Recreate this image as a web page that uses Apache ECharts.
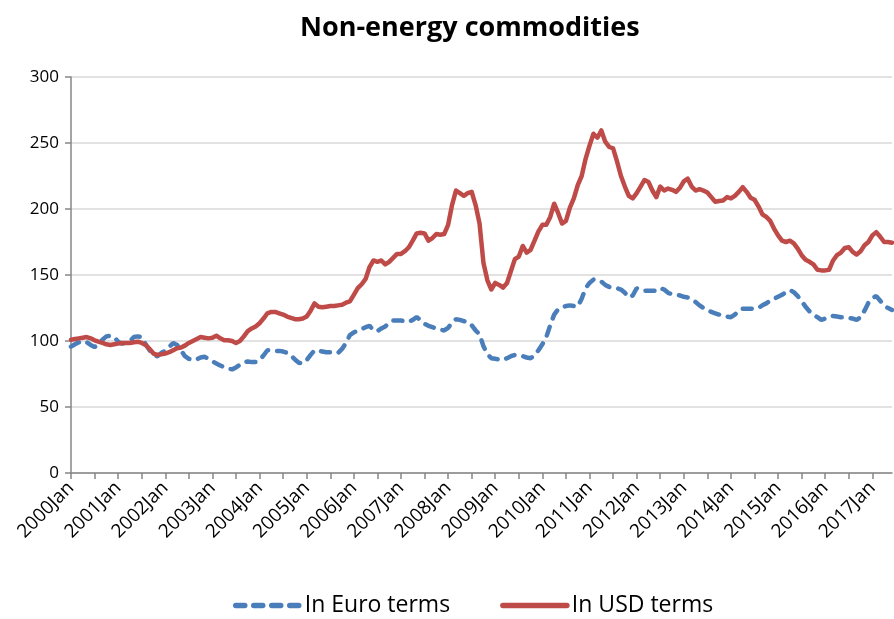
<!DOCTYPE html>
<html>
<head>
    <meta charset="utf-8">
    <title>Non-energy commodities</title>
    <script src="https://cdn.jsdelivr.net/npm/echarts@6/dist/echarts.min.js"></script>
    <style>
        body { margin: 0; background: #fff; }
        #main { width: 894px; height: 619px; }
    </style>
</head>
<body>
<div id="main"></div>
<script type="text/javascript">
    // monthly categories, 2000Jan .. 2017Jun
    var monthNames = ['Jan','Feb','Mar','Apr','May','Jun','Jul','Aug','Sep','Oct','Nov','Dec'];
    var firstYear = 2000;
    var lastYear = 2017;
    var lastMonth = 6;

    var months = [];
    for (var y = firstYear; y <= lastYear; y++) {
        for (var m = 0; m < 12; m++) {
            if (y == lastYear && m >= lastMonth) break;
            months.push(y + monthNames[m]);
        }
    }

    // In USD terms
    var usd = [
        101, 101.5, 102, 102.5, 103, 102, 100.5, 99.5, 98.5, 97.5, 97, 97.5,
        98, 98.5, 98.5, 98.5, 99, 99.5, 98.5, 97, 94, 90.5, 89.5, 90,
        90.5, 91.5, 93, 94.5, 95, 96.5, 98.5, 100, 101.5, 103, 102.5, 102,
        102.5, 104, 102, 100.5, 100.5, 100, 98.5, 100, 103.5, 107.5, 109.5, 111,
        113.5, 117, 121, 122, 122, 121, 120, 118.5, 117.5, 116.5, 116.5, 117,
        118.5, 123, 128.5, 126, 125.5, 126, 126.5, 126.5, 127, 127.5, 129, 130,
        135, 140, 143, 147, 156, 161, 160, 161, 158, 160, 163, 166,
        166, 168, 171, 176, 181.5, 182, 181.5, 176, 178, 181, 180.5, 181,
        188, 203, 214, 212, 210, 212, 213, 203, 189, 159, 146, 139,
        144, 142.5, 140.5, 144, 153, 162, 164, 172, 167, 169, 176, 183,
        188, 188, 194, 204, 197, 189, 191, 201, 208, 218, 225, 238,
        248, 257, 254, 259.5, 251, 247, 246, 236, 225, 217, 210, 208,
        212, 217, 222, 220.5, 214, 209, 217, 214, 215.5, 214.5, 213, 216,
        221, 223, 217, 214, 215, 214, 212.5, 209, 205.5, 206, 206.5, 209,
        208, 210, 213, 216.5, 213, 208.5, 207, 202, 196, 194, 191, 185,
        180, 176, 175, 176, 174, 170, 165, 161.5, 160, 158, 154, 153.5,
        153.5, 154, 161, 165, 167, 170.5, 171, 167.5, 165.5, 168, 172.5, 175,
        180, 182.5, 179, 175, 175, 174.5
    ];

    // In Euro terms
    var euro = [
        95.7, 97.5, 99, 100, 99, 97, 95.5, 97, 101, 103.5, 104, 103,
        99.5, 98, 98.5, 100, 103, 103.5, 103, 97.5, 93, 89, 88.5, 91,
        92.5, 95.5, 98.5, 97, 93, 88.5, 86.5, 85.5, 86, 87.5, 88, 86.5,
        84.5, 83, 81.5, 80, 79, 78.5, 80, 82, 84, 84.5, 84, 84,
        85.5, 89, 93, 93, 92.5, 92.5, 92, 91, 89, 86, 83.5, 83,
        85.5, 89.5, 93, 92.5, 92, 91.5, 91.5, 91, 91, 94, 98.5, 104.5,
        106.5, 108, 109, 110.5, 111.5, 108, 107.5, 109.5, 111, 114, 115.5, 115.5,
        115.5, 115, 114.5, 116, 118, 116, 113, 111.5, 110.5, 109.5, 108.5, 108,
        110, 114, 116.5, 116, 115, 114.5, 112, 108, 105, 96, 90, 87,
        86.5, 86, 85.5, 87, 88.5, 89.5, 89, 88.5, 87.5, 87, 89, 93,
        97.5, 103, 112, 120, 124, 125.5, 126.5, 127, 126.5, 126, 132, 140,
        144, 146.5, 146.5, 145, 142.5, 141, 140.5, 140, 139, 136.5, 133, 134.5,
        140, 139, 138, 138, 138, 138, 140, 139, 136.5, 135.5, 135, 134.5,
        133.5, 133, 131.5, 129.5, 127, 125, 123.5, 122, 121, 120, 119, 118.5,
        118, 120, 123, 124.5, 124.5, 124.5, 124.5, 125, 127, 128.5, 130.5, 132,
        133.5, 135, 137, 138.5, 137, 134, 130, 126, 122.5, 120, 118, 116,
        117, 118.5, 119, 118.5, 118, 118, 117.5, 117, 116, 118, 123, 129,
        132.5, 134, 130.5, 127, 125, 123.5
    ];

    var myChart = echarts.init(document.getElementById('main'));
    var option = {
        animation: false,
        title: {
            left: 295,
            top: 10,
            text: 'Non-energy commodities',
            textStyle: {
                fontSize: 27,
                fontWeight: 'bold',
                color: '#000',
                fontFamily: 'Open Sans'
            }
        },
        legend: {
            bottom: -3,
            left: 228,
            itemWidth: 64,
            itemHeight: 14,
            itemGap: 50,
            itemStyle: { opacity: 0 },
            lineStyle: { width: 5.5 },
            textStyle: { fontSize: 23, color: '#000', fontFamily: 'Open Sans' },
            data: ['In Euro terms', 'In USD terms']
        },
        grid: {
            left: 71,
            right: 2,
            top: 77,
            bottom: 146
        },
        xAxis: {
            type: 'category',
            data: months,
            boundaryGap: false,
            axisLine: { lineStyle: { color: '#868686', width: 1.5 } },
            axisTick: {
                interval: 5,
                length: 6,
                lineStyle: { color: '#868686', width: 1.5 }
            },
            axisLabel: {
                interval: 11,
                rotate: 45,
                margin: 12,
                fontSize: 19,
                color: '#000',
                fontFamily: 'Open Sans'
            },
            splitLine: { show: false }
        },
        yAxis: {
            type: 'value',
            min: 0,
            max: 300,
            interval: 50,
            axisLine: { show: true, lineStyle: { color: '#868686', width: 1.5 } },
            axisTick: { show: true, length: 6, lineStyle: { color: '#868686', width: 1.5 } },
            axisLabel: { fontSize: 17, color: '#000', margin: 12, fontFamily: 'Open Sans' },
            splitLine: { lineStyle: { color: '#d9d9d9', width: 1.5 } }
        },
        series: [
            {
                name: 'In Euro terms',
                type: 'line',
                data: euro,
                symbol: 'none',
                smooth: false,
                itemStyle: { color: '#4a7ebb' },
                lineStyle: { color: '#4a7ebb', width: 4.5, type: [9, 9], cap: 'round' },
                z: 2
            },
            {
                name: 'In USD terms',
                type: 'line',
                data: usd,
                symbol: 'none',
                smooth: false,
                itemStyle: { color: '#be4b48' },
                lineStyle: { color: '#be4b48', width: 4.5, cap: 'round', join: 'round' },
                z: 3
            }
        ]
    };
    myChart.setOption(option);
</script>
</body>
</html>
